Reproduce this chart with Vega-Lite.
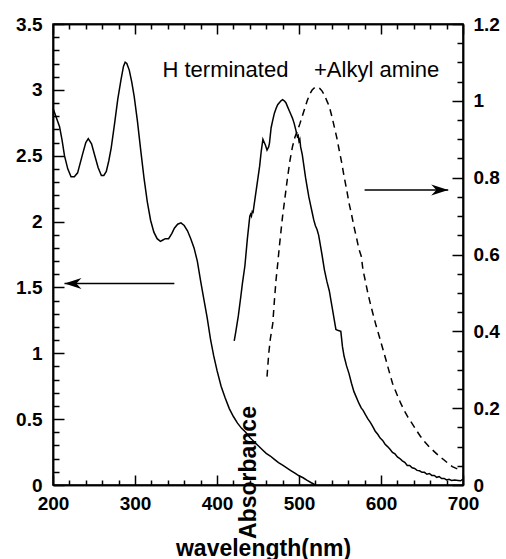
{
  "$schema": "https://vega.github.io/schema/vega-lite/v6.json",
  "padding": {"left": 14, "top": 14, "right": 7, "bottom": 0},
  "background": "white",
  "config": {
    "view": {"stroke": "black", "strokeWidth": 1.5},
    "axis": {"grid": false, "tickColor": "black", "tickWidth": 1.5, "domainColor": "black"}
  },
  "datasets": {
    "abs": [
      {"wl": 200, "A": 2.86}, {"wl": 204, "A": 2.79}, {"wl": 208, "A": 2.72}, {"wl": 211, "A": 2.62},
      {"wl": 214, "A": 2.50}, {"wl": 218, "A": 2.40}, {"wl": 222, "A": 2.34}, {"wl": 226, "A": 2.34},
      {"wl": 230, "A": 2.37}, {"wl": 236, "A": 2.51}, {"wl": 240, "A": 2.60}, {"wl": 243, "A": 2.63},
      {"wl": 247, "A": 2.59}, {"wl": 251, "A": 2.50}, {"wl": 255, "A": 2.41}, {"wl": 259, "A": 2.35},
      {"wl": 262, "A": 2.35}, {"wl": 265, "A": 2.38}, {"wl": 268, "A": 2.46}, {"wl": 271, "A": 2.56},
      {"wl": 275, "A": 2.74}, {"wl": 279, "A": 2.93}, {"wl": 283, "A": 3.08}, {"wl": 286, "A": 3.18},
      {"wl": 288, "A": 3.21}, {"wl": 290, "A": 3.20}, {"wl": 293, "A": 3.15}, {"wl": 296, "A": 3.06},
      {"wl": 299, "A": 2.95}, {"wl": 303, "A": 2.76}, {"wl": 307, "A": 2.54}, {"wl": 311, "A": 2.33},
      {"wl": 315, "A": 2.15}, {"wl": 319, "A": 2.01}, {"wl": 323, "A": 1.92}, {"wl": 327, "A": 1.87},
      {"wl": 331, "A": 1.85}, {"wl": 334, "A": 1.86}, {"wl": 337, "A": 1.87}, {"wl": 341, "A": 1.87},
      {"wl": 345, "A": 1.91}, {"wl": 348, "A": 1.95}, {"wl": 352, "A": 1.98}, {"wl": 356, "A": 1.99},
      {"wl": 360, "A": 1.97}, {"wl": 364, "A": 1.93}, {"wl": 368, "A": 1.87}, {"wl": 372, "A": 1.80},
      {"wl": 376, "A": 1.70}, {"wl": 380, "A": 1.55}, {"wl": 384, "A": 1.41}, {"wl": 388, "A": 1.27},
      {"wl": 392, "A": 1.11}, {"wl": 396, "A": 0.98}, {"wl": 400, "A": 0.87}, {"wl": 405, "A": 0.75},
      {"wl": 410, "A": 0.66}, {"wl": 415, "A": 0.58}, {"wl": 420, "A": 0.52}, {"wl": 425, "A": 0.47},
      {"wl": 430, "A": 0.43}, {"wl": 435, "A": 0.40}, {"wl": 440, "A": 0.36}, {"wl": 445, "A": 0.33},
      {"wl": 450, "A": 0.30}, {"wl": 455, "A": 0.27}, {"wl": 460, "A": 0.24}, {"wl": 465, "A": 0.22},
      {"wl": 470, "A": 0.195}, {"wl": 475, "A": 0.17}, {"wl": 480, "A": 0.15}, {"wl": 485, "A": 0.13},
      {"wl": 490, "A": 0.11}, {"wl": 495, "A": 0.09}, {"wl": 500, "A": 0.07}, {"wl": 505, "A": 0.055},
      {"wl": 510, "A": 0.035}, {"wl": 515, "A": 0.017}, {"wl": 520, "A": 0.0}
    ],
    "ht": [
      {"wl": 421, "I": 0.375}, {"wl": 423, "I": 0.40}, {"wl": 426, "I": 0.44}, {"wl": 429, "I": 0.49},
      {"wl": 431, "I": 0.525}, {"wl": 434, "I": 0.57}, {"wl": 437, "I": 0.64}, {"wl": 440, "I": 0.70},
      {"wl": 441, "I": 0.705}, {"wl": 442, "I": 0.70}, {"wl": 443, "I": 0.712}, {"wl": 444, "I": 0.71},
      {"wl": 446, "I": 0.74}, {"wl": 448, "I": 0.77}, {"wl": 450, "I": 0.80}, {"wl": 452, "I": 0.83},
      {"wl": 454, "I": 0.87}, {"wl": 456, "I": 0.90}, {"wl": 457, "I": 0.895}, {"wl": 459, "I": 0.885},
      {"wl": 461, "I": 0.872}, {"wl": 463, "I": 0.88}, {"wl": 464, "I": 0.89}, {"wl": 466, "I": 0.93},
      {"wl": 468, "I": 0.95}, {"wl": 470, "I": 0.968}, {"wl": 472, "I": 0.98}, {"wl": 474, "I": 0.99},
      {"wl": 476, "I": 0.995}, {"wl": 478, "I": 1.0}, {"wl": 480, "I": 1.003}, {"wl": 482, "I": 1.0},
      {"wl": 484, "I": 0.995}, {"wl": 486, "I": 0.985}, {"wl": 488, "I": 0.975}, {"wl": 490, "I": 0.965},
      {"wl": 492, "I": 0.955}, {"wl": 494, "I": 0.942}, {"wl": 496, "I": 0.925}, {"wl": 498, "I": 0.907},
      {"wl": 499, "I": 0.91}, {"wl": 500, "I": 0.895}, {"wl": 501, "I": 0.9}, {"wl": 502, "I": 0.88},
      {"wl": 504, "I": 0.86}, {"wl": 506, "I": 0.83}, {"wl": 508, "I": 0.80}, {"wl": 510, "I": 0.775},
      {"wl": 512, "I": 0.75}, {"wl": 514, "I": 0.73}, {"wl": 516, "I": 0.71}, {"wl": 518, "I": 0.69},
      {"wl": 520, "I": 0.675}, {"wl": 522, "I": 0.665}, {"wl": 524, "I": 0.65}, {"wl": 526, "I": 0.625},
      {"wl": 528, "I": 0.60}, {"wl": 531, "I": 0.56}, {"wl": 534, "I": 0.53}, {"wl": 537, "I": 0.505},
      {"wl": 539, "I": 0.48}, {"wl": 541, "I": 0.455}, {"wl": 543, "I": 0.43}, {"wl": 545, "I": 0.405},
      {"wl": 548, "I": 0.402}, {"wl": 551, "I": 0.40}, {"wl": 553, "I": 0.36}, {"wl": 555, "I": 0.335},
      {"wl": 558, "I": 0.31}, {"wl": 561, "I": 0.29}, {"wl": 564, "I": 0.265}, {"wl": 567, "I": 0.243},
      {"wl": 570, "I": 0.228}, {"wl": 573, "I": 0.213}, {"wl": 576, "I": 0.20}, {"wl": 578, "I": 0.195},
      {"wl": 581, "I": 0.183}, {"wl": 584, "I": 0.172}, {"wl": 587, "I": 0.163}, {"wl": 590, "I": 0.152},
      {"wl": 593, "I": 0.14}, {"wl": 596, "I": 0.132}, {"wl": 599, "I": 0.122}, {"wl": 602, "I": 0.116},
      {"wl": 605, "I": 0.106}, {"wl": 608, "I": 0.10}, {"wl": 611, "I": 0.093}, {"wl": 614, "I": 0.085},
      {"wl": 617, "I": 0.081}, {"wl": 620, "I": 0.073}, {"wl": 623, "I": 0.069}, {"wl": 626, "I": 0.063},
      {"wl": 629, "I": 0.059}, {"wl": 632, "I": 0.051}, {"wl": 635, "I": 0.051}, {"wl": 638, "I": 0.045},
      {"wl": 641, "I": 0.043}, {"wl": 644, "I": 0.038}, {"wl": 647, "I": 0.037}, {"wl": 650, "I": 0.033},
      {"wl": 653, "I": 0.033}, {"wl": 656, "I": 0.028}, {"wl": 659, "I": 0.03}, {"wl": 662, "I": 0.025},
      {"wl": 665, "I": 0.025}, {"wl": 668, "I": 0.02}, {"wl": 671, "I": 0.022}, {"wl": 674, "I": 0.017},
      {"wl": 677, "I": 0.017}, {"wl": 680, "I": 0.013}, {"wl": 683, "I": 0.015}, {"wl": 686, "I": 0.012},
      {"wl": 690, "I": 0.013}, {"wl": 694, "I": 0.012}, {"wl": 697, "I": 0.011}, {"wl": 700, "I": 0.015}
    ],
    "aa": [
      {"wl": 461, "I": 0.282}, {"wl": 463, "I": 0.34}, {"wl": 465, "I": 0.38}, {"wl": 468, "I": 0.42},
      {"wl": 470, "I": 0.48}, {"wl": 472, "I": 0.534}, {"wl": 474, "I": 0.575}, {"wl": 476, "I": 0.62},
      {"wl": 478, "I": 0.66}, {"wl": 480, "I": 0.70}, {"wl": 483, "I": 0.75}, {"wl": 486, "I": 0.80},
      {"wl": 489, "I": 0.845}, {"wl": 492, "I": 0.88}, {"wl": 495, "I": 0.905}, {"wl": 498, "I": 0.922},
      {"wl": 501, "I": 0.94}, {"wl": 504, "I": 0.96}, {"wl": 507, "I": 0.98}, {"wl": 510, "I": 1.0},
      {"wl": 513, "I": 1.017}, {"wl": 516, "I": 1.028}, {"wl": 519, "I": 1.034}, {"wl": 522, "I": 1.036},
      {"wl": 525, "I": 1.033}, {"wl": 528, "I": 1.026}, {"wl": 531, "I": 1.015}, {"wl": 534, "I": 1.0},
      {"wl": 537, "I": 0.985}, {"wl": 540, "I": 0.96}, {"wl": 543, "I": 0.933}, {"wl": 546, "I": 0.905},
      {"wl": 549, "I": 0.872}, {"wl": 552, "I": 0.84}, {"wl": 555, "I": 0.803}, {"wl": 558, "I": 0.77},
      {"wl": 561, "I": 0.734}, {"wl": 564, "I": 0.705}, {"wl": 567, "I": 0.673}, {"wl": 570, "I": 0.645},
      {"wl": 573, "I": 0.615}, {"wl": 576, "I": 0.595}, {"wl": 578, "I": 0.56}, {"wl": 581, "I": 0.53},
      {"wl": 584, "I": 0.499}, {"wl": 587, "I": 0.472}, {"wl": 590, "I": 0.447}, {"wl": 594, "I": 0.415},
      {"wl": 598, "I": 0.386}, {"wl": 602, "I": 0.356}, {"wl": 606, "I": 0.326}, {"wl": 610, "I": 0.295},
      {"wl": 614, "I": 0.265}, {"wl": 619, "I": 0.238}, {"wl": 624, "I": 0.213}, {"wl": 628, "I": 0.195},
      {"wl": 633, "I": 0.176}, {"wl": 638, "I": 0.16}, {"wl": 643, "I": 0.143}, {"wl": 648, "I": 0.127},
      {"wl": 653, "I": 0.113}, {"wl": 659, "I": 0.099}, {"wl": 665, "I": 0.087}, {"wl": 671, "I": 0.075},
      {"wl": 677, "I": 0.065}, {"wl": 682, "I": 0.056}, {"wl": 687, "I": 0.048}, {"wl": 691, "I": 0.044},
      {"wl": 695, "I": 0.041}
    ],
    "arrowL": [{"from": 348, "to": 214, "A": 1.53}],
    "arrowR": [{"from": 580, "to": 682, "I": 0.768}],
    "labels": [
      {"label": "H terminated", "wl": 333.5, "A": 3.10},
      {"label": "+Alkyl amine", "wl": 518.3, "A": 3.10}
    ]
  },
  "hconcat": [
    {
      "width": 410,
      "height": 461,
      "resolve": {
        "scale": {"y": "independent"},
        "axis": {"x": "independent", "y": "independent"}
      },
      "layer": [
        {
          "data": {"name": "abs"},
          "mark": {"type": "line", "color": "black", "strokeWidth": 1.5},
          "encoding": {
            "x": {
              "field": "wl", "type": "quantitative",
              "scale": {"domain": [200, 700], "nice": false, "zero": false},
              "axis": {
                "orient": "bottom", "values": [200, 300, 400, 500, 600, 700], "format": "d",
                "tickSize": -10, "labelPadding": 19, "domainWidth": 1.5,
                "labelFont": "Liberation Sans", "labelFontWeight": "bold", "labelFontSize": 19, "labelColor": "black",
                "labelFlush": false, "labelOverlap": false,
                "title": "wavelength(nm)", "titleX": 210, "titleY": 70,
                "titleAlign": "center", "titleBaseline": "alphabetic",
                "titleFont": "Liberation Sans", "titleFontWeight": "bold", "titleFontSize": 23, "titleColor": "black"
              }
            },
            "y": {
              "field": "A", "type": "quantitative",
              "scale": {"domain": [0, 3.5], "nice": false},
              "axis": {
                "orient": "left", "values": [0, 0.5, 1, 1.5, 2, 2.5, 3, 3.5], "format": "~g",
                "tickSize": -11, "labelPadding": 22, "domainWidth": 1.5,
                "labelFont": "Liberation Sans", "labelFontWeight": "bold", "labelFontSize": 19, "labelColor": "black",
                "labelFlush": false, "labelOverlap": false,
                "title": "Absorbance", "titleX": 202, "titleY": 448, "titleAngle": 270,
                "titleAlign": "center", "titleBaseline": "alphabetic",
                "titleFont": "Liberation Sans", "titleFontWeight": "bold", "titleFontSize": 23, "titleColor": "black"
              }
            }
          }
        },
        {
          "data": {"name": "arrowL"},
          "mark": {"type": "rule", "color": "black", "strokeWidth": 1.5},
          "encoding": {
            "x": {
              "field": "from", "type": "quantitative",
              "scale": {"domain": [200, 700], "nice": false, "zero": false},
              "axis": {
                "orient": "top", "values": [200, 300, 400, 500, 600, 700],
                "tickSize": -10, "domainWidth": 1.5, "labels": false, "title": null
              }
            },
            "x2": {"field": "to"},
            "y": {
              "field": "A", "type": "quantitative",
              "scale": {"domain": [0, 3.5], "nice": false},
              "axis": {
                "orient": "left",
                "values": [0.1, 0.2, 0.3, 0.4, 0.6, 0.7, 0.8, 0.9, 1.1, 1.2, 1.3, 1.4, 1.6, 1.7, 1.8, 1.9, 2.1, 2.2, 2.3, 2.4, 2.6, 2.7, 2.8, 2.9, 3.1, 3.2, 3.3, 3.4],
                "tickSize": -6, "domainWidth": 1.5, "labels": false, "title": null
              }
            }
          }
        },
        {
          "data": {"name": "arrowL"},
          "mark": {"type": "point", "shape": "M 0 0 L 2 -0.65 L 1.4 0 L 2 0.65 Z", "filled": true, "color": "black", "opacity": 1, "size": 289},
          "encoding": {
            "x": {"field": "to", "type": "quantitative", "scale": {"domain": [200, 700], "nice": false, "zero": false}, "axis": null},
            "y": {"field": "A", "type": "quantitative", "scale": {"domain": [0, 3.5], "nice": false}, "axis": null}
          }
        },
        {
          "data": {"name": "ht"},
          "mark": {"type": "line", "color": "black", "strokeWidth": 1.5},
          "encoding": {
            "x": {
              "field": "wl", "type": "quantitative",
              "scale": {"domain": [200, 700], "nice": false, "zero": false},
              "axis": {
                "orient": "bottom",
                "values": [220, 240, 260, 280, 320, 340, 360, 380, 420, 440, 460, 480, 520, 540, 560, 580, 620, 640, 660, 680],
                "tickSize": -5, "domainWidth": 1.5, "labels": false, "title": null
              }
            },
            "y": {
              "field": "I", "type": "quantitative",
              "scale": {"domain": [0, 1.2], "nice": false},
              "axis": {
                "orient": "right", "values": [0, 0.2, 0.4, 0.6, 0.8, 1, 1.2], "format": "~g",
                "tickSize": -11, "labelPadding": 21, "domainWidth": 1.5,
                "labelFont": "Liberation Sans", "labelFontWeight": "bold", "labelFontSize": 19, "labelColor": "black",
                "labelFlush": false, "labelOverlap": false, "title": null
              }
            }
          }
        },
        {
          "data": {"name": "aa"},
          "mark": {"type": "line", "color": "black", "strokeWidth": 1.5, "strokeDash": [7, 5]},
          "encoding": {
            "x": {"field": "wl", "type": "quantitative", "scale": {"domain": [200, 700], "nice": false, "zero": false}, "axis": null},
            "y": {"field": "I", "type": "quantitative", "scale": {"domain": [0, 1.2], "nice": false}, "axis": null}
          }
        },
        {
          "data": {"name": "arrowR"},
          "mark": {"type": "rule", "color": "black", "strokeWidth": 1.5},
          "encoding": {
            "x": {
              "field": "from", "type": "quantitative",
              "scale": {"domain": [200, 700], "nice": false, "zero": false},
              "axis": {
                "orient": "top",
                "values": [220, 240, 260, 280, 320, 340, 360, 380, 420, 440, 460, 480, 520, 540, 560, 580, 620, 640, 660, 680],
                "tickSize": -5, "domainWidth": 1.5, "labels": false, "title": null
              }
            },
            "x2": {"field": "to"},
            "y": {
              "field": "I", "type": "quantitative",
              "scale": {"domain": [0, 1.2], "nice": false},
              "axis": {
                "orient": "right",
                "values": [0.05, 0.1, 0.15, 0.25, 0.3, 0.35, 0.45, 0.5, 0.55, 0.65, 0.7, 0.75, 0.85, 0.9, 0.95, 1.05, 1.1, 1.15],
                "tickSize": -6, "domainWidth": 1.5, "labels": false, "title": null
              }
            }
          }
        },
        {
          "data": {"name": "arrowR"},
          "mark": {"type": "point", "shape": "M 0 0 L -2 -0.65 L -1.4 0 L -2 0.65 Z", "filled": true, "color": "black", "opacity": 1, "size": 289},
          "encoding": {
            "x": {"field": "to", "type": "quantitative", "scale": {"domain": [200, 700], "nice": false, "zero": false}, "axis": null},
            "y": {"field": "I", "type": "quantitative", "scale": {"domain": [0, 1.2], "nice": false}, "axis": null}
          }
        },
        {
          "data": {"name": "labels"},
          "mark": {"type": "text", "align": "left", "baseline": "alphabetic", "font": "Liberation Sans", "fontSize": 22, "color": "black"},
          "encoding": {
            "x": {"field": "wl", "type": "quantitative", "scale": {"domain": [200, 700], "nice": false, "zero": false}, "axis": null},
            "y": {"field": "A", "type": "quantitative", "scale": {"domain": [0, 3.5], "nice": false}, "axis": null},
            "text": {"field": "label"}
          }
        }
      ]
    }
  ]
}
